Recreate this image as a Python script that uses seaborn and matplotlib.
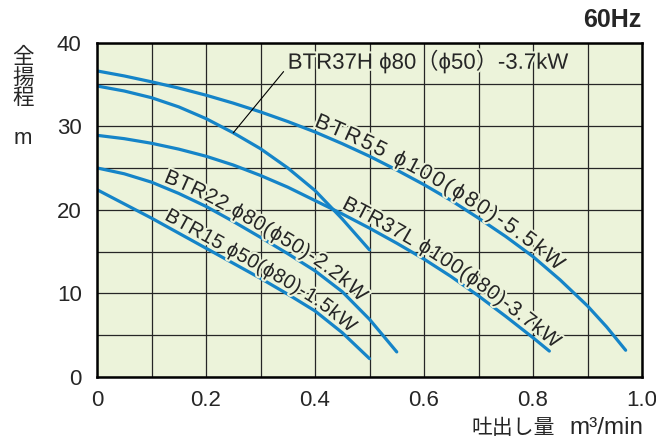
import numpy as np
import matplotlib
matplotlib.use("Agg")
import matplotlib.pyplot as plt
import matplotlib.patheffects as pe
from matplotlib.font_manager import FontProperties
import seaborn as sns

# pump curves (flow m3/min, head m)
flow_55 = [0, 0.05, 0.1, 0.15, 0.2, 0.25, 0.3, 0.35, 0.4, 0.45, 0.5, 0.55, 0.6,
           0.65, 0.7, 0.75, 0.8, 0.85, 0.9, 0.935, 0.97]
head_55 = [36.6, 36.0, 35.3, 34.55, 33.7, 32.75, 31.7, 30.55, 29.3, 27.9, 26.4, 24.75, 23.0,
           21.1, 19.0, 16.8, 14.4, 11.6, 8.5, 6.0, 3.2]

flow_37h = [0, 0.05, 0.1, 0.15, 0.2, 0.25, 0.3, 0.35, 0.4, 0.45, 0.5]
head_37h = [34.8, 34.2, 33.4, 32.3, 30.9, 29.2, 27.3, 25.0, 22.3, 18.9, 15.2]

flow_37l = [0, 0.05, 0.1, 0.15, 0.2, 0.25, 0.3, 0.35, 0.4, 0.45, 0.5, 0.55, 0.6,
            0.65, 0.7, 0.75, 0.8, 0.83]
head_37l = [28.9, 28.5, 27.95, 27.25, 26.4, 25.35, 24.1, 22.7, 21.1, 19.5, 17.8, 16.0, 14.1,
            12.0, 9.7, 7.25, 4.7, 3.1]

flow_22 = [0, 0.05, 0.1, 0.15, 0.2, 0.25, 0.3, 0.35, 0.4, 0.45, 0.5, 0.55]
head_22 = [25.0, 24.3, 23.3, 21.95, 20.4, 18.6, 16.7, 14.75, 12.7, 10.2, 6.9, 3.0]

flow_15 = [0, 0.05, 0.1, 0.15, 0.2, 0.25, 0.3, 0.35, 0.4, 0.45, 0.5]
head_15 = [22.4, 20.7, 19.0, 17.2, 15.4, 13.6, 11.8, 9.9, 7.9, 5.3, 2.2]

label_55 = "BTR55 ϕ100(ϕ80)-5.5kW"
label_37h = "BTR37H ϕ80（ϕ50）-3.7kW"
label_37l = "BTR37L ϕ100(ϕ80)-3.7kW"
label_22 = "BTR22 ϕ80(ϕ50)-2.2kW"
label_15 = "BTR15 ϕ50(ϕ80)-1.5kW"

x_ticks = [0, 0.2, 0.4, 0.6, 0.8, 1.0]
x_ticklabels = ["0", "0.2", "0.4", "0.6", "0.8", "1.0"]
y_ticks = [0, 10, 20, 30, 40]

sns.set_style("white")
fonts = ["Liberation Sans", "Noto Sans CJK JP", "DejaVu Sans"]
plt.rcParams["font.family"] = fonts

blue = "#1584c8"
bg = "#ecf3da"
halo = [pe.withStroke(linewidth=3, foreground=bg)]

fig = plt.figure(figsize=(6.56, 4.41), dpi=100)
ax = fig.add_axes([97/656, 1-377/441, 545/656, 334.5/441])
ax.set_facecolor(bg)

for fx, hy in [(flow_55, head_55), (flow_37h, head_37h), (flow_37l, head_37l),
               (flow_22, head_22), (flow_15, head_15)]:
    sns.lineplot(x=fx, y=hy, ax=ax, color=blue, linewidth=2.3, zorder=3)

ax.set_xlim(0, 1.0)
ax.set_ylim(0, 40)
ax.set_xticks(x_ticks)
ax.set_xticklabels(x_ticklabels)
ax.set_yticks(y_ticks)
ax.set_xticks(np.arange(0.1, 1.0, 0.2), minor=True)
ax.set_yticks(np.arange(5, 40, 10), minor=True)
ax.grid(which="both", color="#262626", linewidth=0.9, zorder=1)
ax.set_axisbelow(True)
ax.tick_params(which="both", length=0, labelsize=16)
ax.tick_params(axis="y", pad=11)
ax.tick_params(axis="x", pad=9)
for sp in ax.spines.values():
    sp.set_color("black")
    sp.set_linewidth(1.8)
    sp.set_zorder(5)

renderer = fig.canvas.get_renderer()


def advance(ch, prop):
    # glyph advance = width of |ch| minus width of ||
    w1 = renderer.get_text_width_height_descent("|" + ch + "|", prop, ismath=False)[0]
    w0 = renderer.get_text_width_height_descent("||", prop, ismath=False)[0]
    return w1 - w0


def label_on_curve(ax, xs, ys, text, x_start, offset=5, size=15, track=0.5):
    # walk along the curve in pixels and place one glyph at a time
    prop = FontProperties(family=fonts, size=size)
    pts = ax.transData.transform(np.column_stack([xs, ys]))
    seg = np.diff(pts, axis=0)
    cum = np.concatenate([[0], np.cumsum(np.hypot(seg[:, 0], seg[:, 1]))])
    s = np.interp(ax.transData.transform((x_start, 0))[0], pts[:, 0], cum)
    inv = ax.transData.inverted()
    for ch in text:
        w = advance(ch, prop)
        mid = s + w / 2
        p = np.array([np.interp(mid, cum, pts[:, 0]), np.interp(mid, cum, pts[:, 1])])
        a = np.array([np.interp(mid - 12, cum, pts[:, 0]), np.interp(mid - 12, cum, pts[:, 1])])
        b = np.array([np.interp(mid + 12, cum, pts[:, 0]), np.interp(mid + 12, cum, pts[:, 1])])
        ang = np.arctan2(b[1] - a[1], b[0] - a[0])
        pos = p + offset * np.array([-np.sin(ang), np.cos(ang)])
        dx, dy = inv.transform(pos)
        if ch != " ":
            ax.text(dx, dy, ch, fontproperties=prop, rotation=np.degrees(ang),
                    rotation_mode="anchor", ha="center", va="baseline", zorder=4,
                    path_effects=halo)
        s += w + track


label_on_curve(ax, flow_55, head_55, label_55, 0.394, size=15.5, track=2.2)
label_on_curve(ax, flow_37l, head_37l, label_37l, 0.444, size=15)
label_on_curve(ax, flow_22, head_22, label_22, 0.118, size=15)
label_on_curve(ax, flow_15, head_15, label_15, 0.118, size=14.5, track=0.3)

ax.annotate(label_37h, xy=(flow_37h[5], head_37h[5]), xytext=(0.35, 37.7),
            ha="left", va="center", fontsize=16, zorder=4, path_effects=halo,
            arrowprops=dict(arrowstyle="-", color="black", lw=0.8,
                            relpos=(0, 0.3), shrinkA=1, shrinkB=0))

fig.text(23/656, 1-78/441, "全\n揚\n程", fontsize=15.5, ha="center", va="center",
         linespacing=0.95)
fig.text(23/656, 1-139/441, "m", fontsize=16, ha="center", va="center")
fig.text(471/656, 1-428/441, "吐出し量", fontsize=15, ha="left", va="center")
fig.text(606/656, 1-428/441, "m³/min", fontsize=17.5, ha="center", va="center")
fig.text(641/656, 1-20/441, "60Hz", fontsize=18, fontweight="bold", ha="right", va="center")

fig.savefig("out.png", dpi=100)
